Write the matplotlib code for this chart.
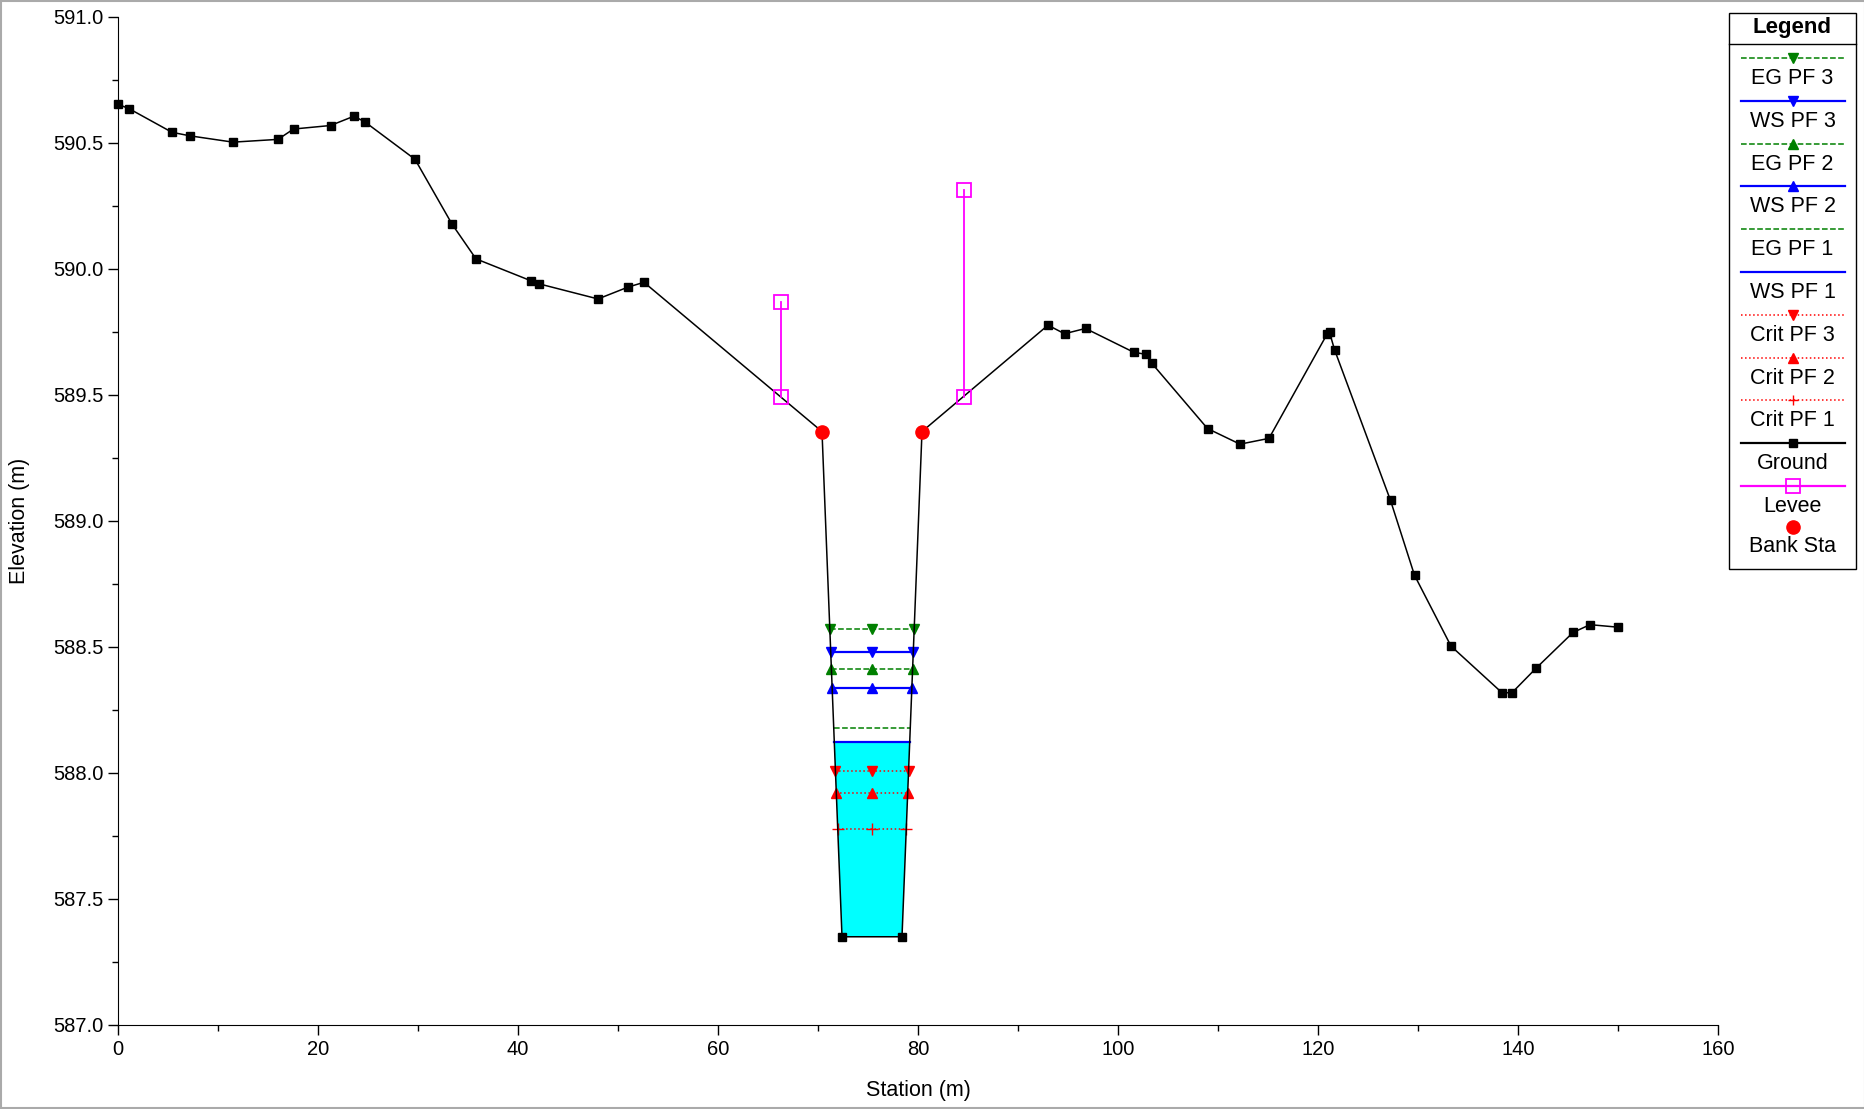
import numpy as np
import matplotlib
matplotlib.use("Agg")
import matplotlib.pyplot as plt
from matplotlib.patches import Rectangle

plt.rcParams['font.family'] = ['Liberation Sans', 'DejaVu Sans']

#Ground survey points (station, elevation)
ground_x = [0.0, 1.1, 5.4, 7.2, 11.5, 16.0, 17.55, 21.25, 23.6, 24.7, 29.7, 33.4, 35.8,
            41.3, 42.1, 48.0, 51.0, 52.6, 70.4, 72.4, 78.4, 80.4,
            93.0, 94.65, 96.75, 101.55, 102.8, 103.4, 108.95, 112.2, 115.1,
            120.9, 121.15, 121.65, 127.25, 129.65, 133.3, 138.4, 139.4, 141.8,
            145.5, 147.2, 150.0]
ground_y = [590.652, 590.635, 590.541, 590.527, 590.502, 590.513, 590.554, 590.568, 590.605, 590.582,
            590.434, 590.177, 590.039, 589.952, 589.940, 589.880, 589.927, 589.946, 589.354, 587.350,
            587.350, 589.354,
            589.776, 589.742, 589.763, 589.669, 589.660, 589.624, 589.366, 589.304, 589.327,
            589.740, 589.748, 589.679, 589.081, 588.784, 588.503, 588.318, 588.318, 588.415,
            588.557, 588.588, 588.578]

#Bank stations
bank_x = [70.4, 80.4]
bank_y = [589.354, 589.354]

#Levees
levee_x = [66.3, 84.6]
levee_top = [589.868, 590.311]
levee_base = [589.493, 589.493]

#Water surface / energy grade / critical elevations
prof_names = ['EG PF 3', 'WS PF 3', 'EG PF 2', 'WS PF 2', 'EG PF 1', 'WS PF 1',
              'Crit PF 3', 'Crit PF 2', 'Crit PF 1']
prof_elev = [588.570, 588.481, 588.413, 588.337, 588.178, 588.121, 588.009, 587.920, 587.778]
prof_color = ['#008000', '#0000ff', '#008000', '#0000ff', '#008000', '#0000ff',
              '#ff0000', '#ff0000', '#ff0000']
prof_style = ['--', '-', '--', '-', '--', '-', ':', ':', ':']
prof_marker = ['v', 'v', '^', '^', None, None, 'v', '^', '+']

W, H = 1865, 1109
fig = plt.figure(figsize=(W / 100, H / 100), dpi=100)
ax = fig.add_axes([118 / W, 1 - 1025 / H, 1600 / W, (1025 - 16.6) / H])

gx = np.array(ground_x)
gy = np.array(ground_y)

#channel walls
li = ground_x.index(70.4)
ri = ground_x.index(80.4)
def wall_x(elev):
    # left wall: bank -> bottom, right wall: bottom -> bank
    xl = np.interp(elev, [gy[li + 1], gy[li]], [gx[li + 1], gx[li]])
    xr = np.interp(elev, [gy[ri - 1], gy[ri]], [gx[ri - 1], gx[ri]])
    return xl, xr

#water fill below WS PF 1
ws1 = prof_elev[prof_names.index('WS PF 1')]
xl, xr = wall_x(ws1)
px = [xl] + [gx[i] for i in range(li, ri + 1) if gy[i] < ws1] + [xr]
py = [ws1] + [gy[i] for i in range(li, ri + 1) if gy[i] < ws1] + [ws1]
ax.fill(px, py, color='#00ffff', zorder=1, lw=0)

for name, e, c, ls, m in zip(prof_names, prof_elev, prof_color, prof_style, prof_marker):
    xl, xr = wall_x(e)
    lw = 1.6 if ls == '-' else 1.1
    ax.plot([xl, xr], [e, e], color=c, ls=ls, lw=lw, zorder=3)
    if m is not None:
        ax.plot([xl, (xl + xr) / 2, xr], [e, e, e], ls='none', marker=m, color=c,
                markersize=7 if m != '+' else 8, mew=1.0, zorder=4)

ax.plot(gx, gy, color='black', lw=1.1, marker='s', markersize=6, zorder=5, clip_on=False)

for x, t, b in zip(levee_x, levee_top, levee_base):
    ax.plot([x, x], [b, t], color='#ff00ff', lw=1.3, marker='s', markersize=10,
            mfc='none', mec='#ff00ff', mew=1.3, zorder=6)

ax.plot(bank_x, bank_y, ls='none', marker='o', color='#ff0000', markersize=9.5, zorder=7)

ax.set_xlim(0, 160)
ax.set_ylim(587, 591)
ax.set_xticks(np.arange(0, 161, 20))
ax.set_xticks(np.arange(10, 160, 20), minor=True)
ax.set_yticks(np.arange(587, 591.01, 0.5))
ax.set_yticks(np.arange(587.25, 591, 0.5), minor=True)
ax.set_yticklabels(['%.1f' % v for v in np.arange(587, 591.01, 0.5)])
ax.spines['top'].set_visible(False)
ax.spines['right'].set_visible(False)
ax.tick_params(labelsize=14.5, length=7, width=1)
ax.tick_params(which='minor', length=4, width=1)
ax.set_xlabel('Station (m)', fontsize=15.5)
ax.set_ylabel('Elevation (m)', fontsize=15.5)
ax.xaxis.set_label_coords(0.5, -(1080 - 1025) / 1008.4)
ax.yaxis.set_label_coords(-(118 - 30) / 1600, 0.5)

#Custom legend drawn in pixel space
lg = fig.add_axes([0, 0, 1, 1])
lg.set_xlim(0, W)
lg.set_ylim(H, 0)
lg.axis('off')
lg.add_patch(Rectangle((1729, 13), 127, 556, fill=False, ec='black', lw=1))
lg.plot([1729, 1856], [44, 44], color='black', lw=1)
lg.text(1792.5, 28, 'Legend', ha='center', va='center', fontsize=16, fontweight='bold')

leg_names = prof_names + ['Ground', 'Levee']
leg_color = prof_color + ['black', '#ff00ff']
leg_style = prof_style + ['-', '-']
leg_marker = prof_marker + ['s', 's']
for i, (n, c, ls, m) in enumerate(zip(leg_names, leg_color, leg_style, leg_marker)):
    yl = 58 + 42.8 * i
    lw = 1.6 if ls == '-' else 1.1
    lg.plot([1741, 1845], [yl, yl], color=c, ls=ls, lw=lw)
    if m == 's' and n == 'Levee':
        lg.plot([1793], [yl], marker='s', markersize=10, mfc='none', mec=c, mew=1.3)
    elif m is not None:
        lg.plot([1793], [yl], marker=m, color=c, markersize=7 if m != 's' else 6, mew=1.0)
    lg.text(1792.5, yl + 20.5, n, ha='center', va='center', fontsize=15.5)
lg.plot([1793], [527], marker='o', color='#ff0000', markersize=9.5)
lg.text(1792.5, 547, 'Bank Sta', ha='center', va='center', fontsize=15.5)

#figure border
lg.add_patch(Rectangle((0.5, 0.5), W - 1, H - 1.5, fill=False, ec='#aaaaaa', lw=1.5))

fig.savefig('out.png', dpi=100)
